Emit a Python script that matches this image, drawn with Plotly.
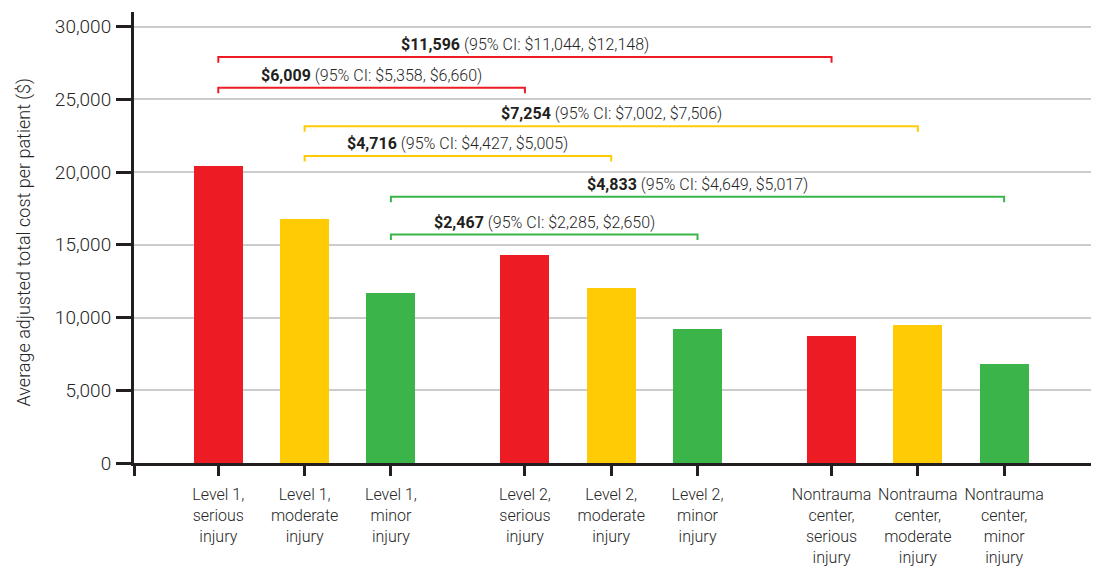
import plotly.graph_objects as go

# ---------------- data ----------------
categories = [
    "Level 1,<br>serious<br>injury",
    "Level 1,<br>moderate<br>injury",
    "Level 1,<br>minor<br>injury",
    "Level 2,<br>serious<br>injury",
    "Level 2,<br>moderate<br>injury",
    "Level 2,<br>minor<br>injury",
    "Nontrauma<br>center,<br>serious<br>injury",
    "Nontrauma<br>center,<br>moderate<br>injury",
    "Nontrauma<br>center,<br>minor<br>injury",
]
avg_cost = [20400, 16800, 11700, 14300, 12050, 9230, 8750, 9500, 6820]
severity_colors = ["#ed1c24", "#ffcb05", "#3bb54a"]

# comparisons: (from bar, to bar, difference, CI low, CI high, bracket level)
cmp_from = [0, 0, 1, 1, 2, 2]
cmp_to = [6, 3, 7, 4, 8, 5]
cmp_diff = ["$11,596", "$6,009", "$7,254", "$4,716", "$4,833", "$2,467"]
cmp_lo = ["$11,044", "$5,358", "$7,002", "$4,427", "$4,649", "$2,285"]
cmp_hi = ["$12,148", "$6,660", "$7,506", "$5,005", "$5,017", "$2,650"]
cmp_level = [27900, 25800, 23150, 21100, 18300, 15700]

yticks = [0, 5000, 10000, 15000, 20000, 25000, 30000]
y_title = "Average adjusted total cost per patient ($)"

# ---------------- layout helpers ----------------
GROUP_STEP = 3.553
xpos = [g * GROUP_STEP + i for g in range(3) for i in range(3)]
colors = [severity_colors[i] for g in range(3) for i in range(3)]
X_LEFT, X_RIGHT = -0.977, 10.159
BRACKET_DROP = 380

FONT = "Roboto"
TXT = "#262626"
AXIS = "#231f20"
LIGHT = 300

fig = go.Figure()
fig.add_trace(go.Bar(
    x=xpos, y=avg_cost, width=0.568,
    marker=dict(color=colors, line=dict(width=0)),
    showlegend=False, hoverinfo="skip",
))

for f, t, d, lo, hi, lv in zip(cmp_from, cmp_to, cmp_diff, cmp_lo, cmp_hi, cmp_level):
    col = severity_colors[f % 3]
    x0, x1 = xpos[f], xpos[t]
    fig.add_trace(go.Scatter(
        x=[x0, x0, x1, x1], y=[lv - BRACKET_DROP, lv, lv, lv - BRACKET_DROP],
        mode="lines", line=dict(color=col, width=2),
        showlegend=False, hoverinfo="skip",
    ))
    fig.add_annotation(
        x=(x0 + x1) / 2, y=lv, yshift=12.5, yanchor="middle", xanchor="center",
        text=f"<b style='color:{AXIS}'>{d}</b> (95% CI: {lo}, {hi})",
        showarrow=False, font=dict(family=FONT, size=16, color=TXT, weight=LIGHT),
    )

fig.add_annotation(
    xref="paper", yref="paper", x=0, y=0.5, xshift=-111, yshift=-5,
    xanchor="center", yanchor="middle", textangle=-90, showarrow=False,
    text=y_title, font=dict(family=FONT, size=18, color=TXT, weight=LIGHT),
)

fig.update_layout(
    width=1091, height=567,
    margin=dict(l=126, r=4, t=4, b=112),
    plot_bgcolor="white", paper_bgcolor="white",
    font=dict(family=FONT, color=TXT),
    bargap=0,
)
fig.update_xaxes(
    range=[X_LEFT, X_RIGHT],
    tickvals=[X_LEFT + 0.003] + xpos,
    ticktext=[""] + categories,
    ticks="outside", ticklen=10, tickwidth=3, tickcolor=AXIS,
    showline=True, linewidth=3, linecolor=AXIS,
    showgrid=False, zeroline=False, automargin=False,
    tickfont=dict(family=FONT, size=16, color=TXT, weight=LIGHT),
    ticklabelstandoff=5,
)
fig.update_yaxes(
    range=[0, 31000],
    tickvals=yticks,
    ticktext=[f"{v:,}" for v in yticks],
    ticks="outside", ticklen=15, tickwidth=3, tickcolor=AXIS,
    showline=True, linewidth=3, linecolor=AXIS,
    showgrid=True, gridcolor="#cccccc", gridwidth=1.5,
    zeroline=False, automargin=False,
    tickfont=dict(family=FONT, size=19, color=TXT, weight=LIGHT),
    ticklabelstandoff=1,
)

fig.write_html("out.html")
